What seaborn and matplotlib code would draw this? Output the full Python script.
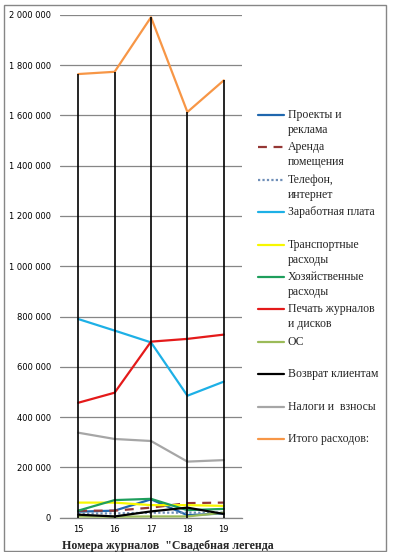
import matplotlib
matplotlib.use("Agg")
import matplotlib.pyplot as plt
import seaborn as sns
import pandas as pd
from matplotlib.lines import Line2D
from matplotlib.patches import Rectangle

# номера журналов
issues = ["15", "16", "17", "18", "19"]

# статьи расходов (руб.)
projects = [24000, 28000, 73000, 10000, 17000]
rent = [28000, 28000, 40000, 58000, 60000]
phone = [17000, 17000, 20000, 20000, 20000]
salary = [790000, 744000, 697000, 485000, 541000]
transport = [60000, 60000, 50000, 50000, 47000]
household = [28000, 70000, 75000, 30000, 35000]
printing = [457000, 497000, 700000, 711000, 728000]
os_costs = [5000, 4000, 5000, 5000, 20000]
refunds = [12000, 5000, 25000, 40000, 15000]
taxes = [338000, 313000, 305000, 223000, 229000]
total = [1764000, 1773000, 1990000, 1613000, 1739000]

labels = ["Проекты и\nреклама", "Аренда\nпомещения", "Телефон,\nинтернет",
          "Заработная плата", "Транспортные\nрасходы", "Хозяйственные\nрасходы",
          "Печать журналов\nи дисков", "ОС", "Возврат клиентам",
          "Налоги и  взносы", "Итого расходов:"]
series = [projects, rent, phone, salary, transport, household,
          printing, os_costs, refunds, taxes, total]
colors = ["#1F67AE", "#953735", "#6F8FB8", "#1DB0E6", "#F7F700", "#1E9E5C",
          "#E41A1A", "#9BBB59", "#000000", "#A6A6A6", "#F79646"]
styles = ["-", (0, (4, 3)), (0, (1, 1)), "-", "-", "-", "-", "-", "-", "-", "-"]

sns.set_style("white")
plt.rcParams["font.family"] = ["DejaVu Sans"]

fig = plt.figure(figsize=(3.94, 5.52), dpi=100)
W, H = 394, 552
ax = fig.add_axes([60 / W, 1 - 517.7 / H, 182 / W, 503 / H])

pos = list(range(len(issues)))
for vals, col, ls in zip(series, colors, styles):
    df = pd.DataFrame({"x": pos, "y": vals})
    sns.lineplot(data=df, x="x", y="y", color=col, linestyle=ls,
                 linewidth=1.6, ax=ax, zorder=3)

# линии проекции до оси
ax.vlines(pos, 0, total, colors="black", linewidth=1.2, zorder=4)

ax.set_xlim(-0.5, len(issues) - 0.5)
ax.set_ylim(0, 2000000)
ax.set_yticks(range(0, 2000001, 200000))
ax.set_yticklabels([f"{v:,}".replace(",", " ") for v in range(0, 2000001, 200000)])
ax.set_xticks(pos)
ax.set_xticklabels(issues)
ax.tick_params(axis="both", length=0, labelsize=6, colors="black")
ax.tick_params(axis="y", pad=6.5)
ax.tick_params(axis="x", pad=5)
ax.yaxis.grid(True, color="#868686", linewidth=0.9)
ax.xaxis.grid(False)
for s in ["top", "right", "left"]:
    ax.spines[s].set_visible(False)
ax.spines["bottom"].set_color("#868686")
ax.spines["bottom"].set_linewidth(0.9)
ax.set_xlabel("")
ax.set_ylabel("")

# легенда
serif = ["Liberation Serif", "DejaVu Serif"]
for i, (lab, col, ls) in enumerate(zip(labels, colors, styles)):
    y = 1 - (115 + 32.4 * i) / H
    fig.add_artist(Line2D([258 / W, 284 / W], [y, y], color=col, linestyle=ls,
                          linewidth=1.6, transform=fig.transFigure))
    for j, part in enumerate(lab.split("\n")):
        fig.text(288 / W, y - j * 15 / H, part, fontsize=8.5, family=serif,
                 va="center", ha="left")

fig.text(62 / W, 1 - 546 / H, "Номера журналов  \"Свадебная легенда",
         fontsize=8.6, family=serif, fontweight="bold", va="center", ha="left")

fig.add_artist(Rectangle((4 / W, 1 / H), 382 / W, 546 / H, fill=False,
                         edgecolor="#868686", linewidth=1,
                         transform=fig.transFigure))

fig.savefig("out.png", dpi=100)
